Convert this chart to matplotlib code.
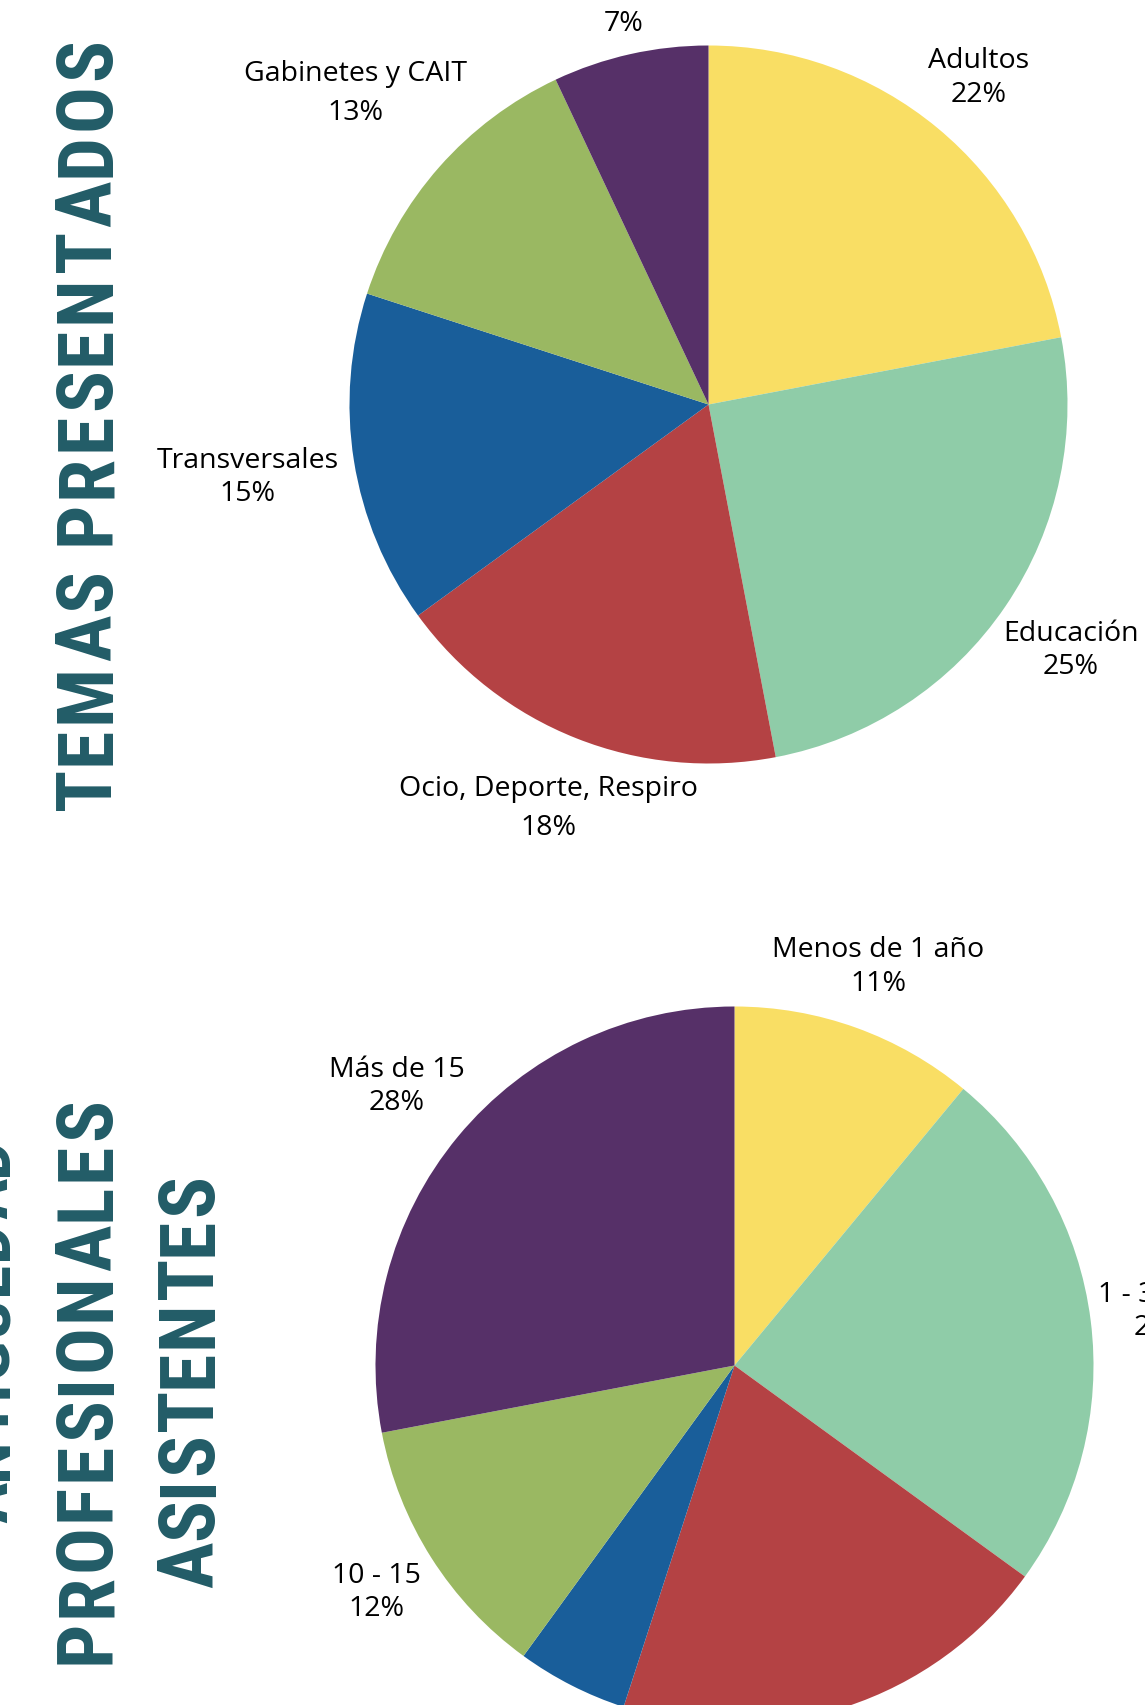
import numpy as np
import matplotlib
matplotlib.use('Agg')
import matplotlib.pyplot as plt
from matplotlib import font_manager
from matplotlib.font_manager import FontProperties

W, H = 1145, 1705

# top chart: temas presentados
temas = ['Adultos', 'Educación', 'Ocio, Deporte, Respiro', 'Transversales',
         'Gabinetes y CAIT', '']
temas_pct = [22, 25, 18, 15, 13, 7]

# bottom chart: antigüedad de los profesionales
antig = ['Menos de 1 año', '1 - 3 años', '3 - 5 años', '5 - 10 años',
         '10 - 15', 'Más de 15']
antig_pct = [11, 24, 20, 5, 12, 28]

colors = ['#f9de64', '#8fcca8', '#b44244', '#195e9a', '#9ab862', '#563068']
title_color = '#225c67'


def has_font(name):
    try:
        font_manager.findfont(FontProperties(family=name, weight='bold'),
                              fallback_to_default=False)
        return True
    except ValueError:
        return False


title_family = 'DejaVu Sans'
for name in ['Liberation Sans Narrow', 'Roboto Condensed']:
    if has_font(name):
        title_family = name
        break

fig = plt.figure(figsize=(W / 100, H / 100), dpi=100)
fig.patch.set_facecolor('white')
renderer = fig.canvas.get_renderer()


def spaced_title(text, base_x, y_top, y_bottom, size=56):
    # letters read bottom to top, spread out to fill the span
    length = y_bottom - y_top
    while True:
        fp = FontProperties(family=title_family, weight='bold', size=size)
        widths = []
        for ch in text:
            t = fig.text(0, 0, ch, fontproperties=fp)
            widths.append(t.get_window_extent(renderer).width)
            t.remove()
        gap = (length - sum(widths)) / (len(text) - 1)
        if gap > 1 or size < 20:
            break
        size -= 2
    pos = H - y_bottom
    for ch, w in zip(text, widths):
        fig.text(base_x / W, (pos + w / 2) / H, ch, fontproperties=fp,
                 color=title_color, rotation=90, rotation_mode='anchor',
                 ha='center', va='baseline')
        pos += w + gap


def draw_pie(cx, cy, r, values, names, dists, spacings):
    ax = fig.add_axes([(cx - r) / W, (H - cy - r) / H, 2 * r / W, 2 * r / H])
    wedges, _ = ax.pie(values, colors=colors, startangle=90, counterclock=False,
                       wedgeprops=dict(linewidth=0))
    ax.set_xlim(-1, 1)
    ax.set_ylim(-1, 1)
    ax.axis('off')
    for w, name, v, d, ls in zip(wedges, names, values, dists, spacings):
        mid = np.deg2rad((w.theta1 + w.theta2) / 2)
        label = f'{name}\n{v}%' if name else f'{v}%'
        ax.text(d * np.cos(mid), d * np.sin(mid), label, ha='center', va='center',
                family='Open Sans', fontsize=20.5, color='black', linespacing=ls)
    return ax


draw_pie(708.5, 404.5, 359, temas_pct, temas,
         [1.18, 1.22, 1.21, 1.30, 1.31, 1.085],
         [1.25, 1.25, 1.5, 1.25, 1.5, 1.25])
draw_pie(734.5, 1365.5, 359, antig_pct, antig,
         [1.18, 1.20, 1.20, 1.20, 1.18, 1.22],
         [1.25, 1.25, 1.25, 1.25, 1.25, 1.25])

spaced_title('TEMAS PRESENTADOS', 110, 38, 810)
spaced_title('ANTIGÜEDAD', 7, 1137, 1523)
spaced_title('PROFESIONALES', 110, 1098, 1664)
spaced_title('ASISTENTES', 212, 1174, 1588)

fig.savefig('out.png', dpi=100, facecolor='white')
